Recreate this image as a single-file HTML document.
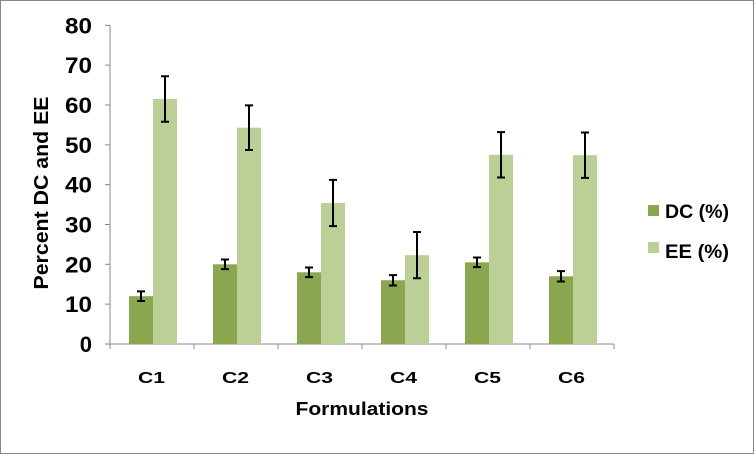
<!DOCTYPE html>
<html><head><meta charset="utf-8"><style>
body{margin:0;background:#fff;}
svg{display:block;font-family:"Liberation Sans",Arial,sans-serif;font-weight:bold;}
</style></head><body>
<svg width="756" height="456">
<rect x="0.5" y="0.5" width="753" height="453" fill="#fff" stroke="#888"/>
<g id="plot"></g>
<text x="362" y="415" font-size="18" text-anchor="middle" textLength="133" lengthAdjust="spacingAndGlyphs">Formulations</text>
<text transform="translate(48,193) rotate(-90)" font-size="20" text-anchor="middle" textLength="193" lengthAdjust="spacingAndGlyphs">Percent DC and EE</text>
<g>
<rect x="648" y="205" width="11" height="11" fill="#8aa64f"/>
<text x="665" y="218" font-size="19" textLength="64" lengthAdjust="spacingAndGlyphs">DC (%)</text>
<rect x="648" y="242" width="11" height="11" fill="#bbcf96"/>
<text x="665" y="258" font-size="19" textLength="64" lengthAdjust="spacingAndGlyphs">EE (%)</text>
</g>
</svg>
<script>
const categories=["C1","C2","C3","C4","C5","C6"];
const dcValues=[12,20,18,16,20.5,17];
const dcErrors=[1.2,1.2,1.2,1.3,1.2,1.3];
const eeValues=[61.5,54.3,35.4,22.3,47.5,47.4];
const eeErrors=[5.7,5.6,5.8,5.8,5.7,5.7];
const yTicks=[0,10,20,30,40,50,60,70,80];
const NS="http://www.w3.org/2000/svg";
const g=document.getElementById('plot');
const x0=110,cw=84,yb=344,yt=25.3,ymax=80;
const y=v=>yb-(v/ymax)*(yb-yt);
const xc=i=>x0+cw*i+cw/2;
function mk(t,a){const e=document.createElementNS(NS,t);for(const k in a)e.setAttribute(k,a[k]);g.appendChild(e);return e;}
let ax=mk('line',{x1:x0,y1:yt,x2:x0,y2:yb,stroke:'#888'});


let bx=mk('line',{x1:x0,y1:yb,x2:x0+cw*categories.length,y2:yb,stroke:'#888'});


yTicks.forEach(t=>{
 let l=mk('line',{x1:x0-5,y1:y(t),x2:x0,y2:y(t),stroke:'#888'});
 
 
 const a={x:x0-18,y:y(t)+8,'font-size':22,'text-anchor':'end'};
 if(String(t).length===2){a.textLength=27;a.lengthAdjust='spacingAndGlyphs';}
 let tx=mk('text',a);
 tx.textContent=t;
 
 
});
for(let i=0;i<=categories.length;i++){
 let l=mk('line',{x1:x0+cw*i,y1:yb,x2:x0+cw*i,y2:yb+5,stroke:'#888'});
 
 
}
function err(cx,v,e){
 const p=`M${cx},${y(v+e)}V${y(v-e)}M${cx-4},${y(v+e)}H${cx+4}M${cx-4},${y(v-e)}H${cx+4}`;
 let el=mk('path',{d:p,stroke:'#000','stroke-width':2,fill:'none'});
 
 
}
categories.forEach((c,i)=>{
 const cx=xc(i);
 let r1=mk('rect',{x:cx-23,y:y(dcValues[i]),width:24,height:yb-y(dcValues[i]),fill:'#8aa64f'});
 
 
 let r2=mk('rect',{x:cx+1,y:y(eeValues[i]),width:24,height:yb-y(eeValues[i]),fill:'#bbcf96'});
 
 
 err(cx-11,dcValues[i],dcErrors[i]);
 err(cx+13,eeValues[i],eeErrors[i]);
 let t=mk('text',{x:cx-0.5,y:383,'font-size':16,'text-anchor':'middle',textLength:27,lengthAdjust:'spacingAndGlyphs'});
 t.textContent=c;
 
 
});
</script>
</body></html>
